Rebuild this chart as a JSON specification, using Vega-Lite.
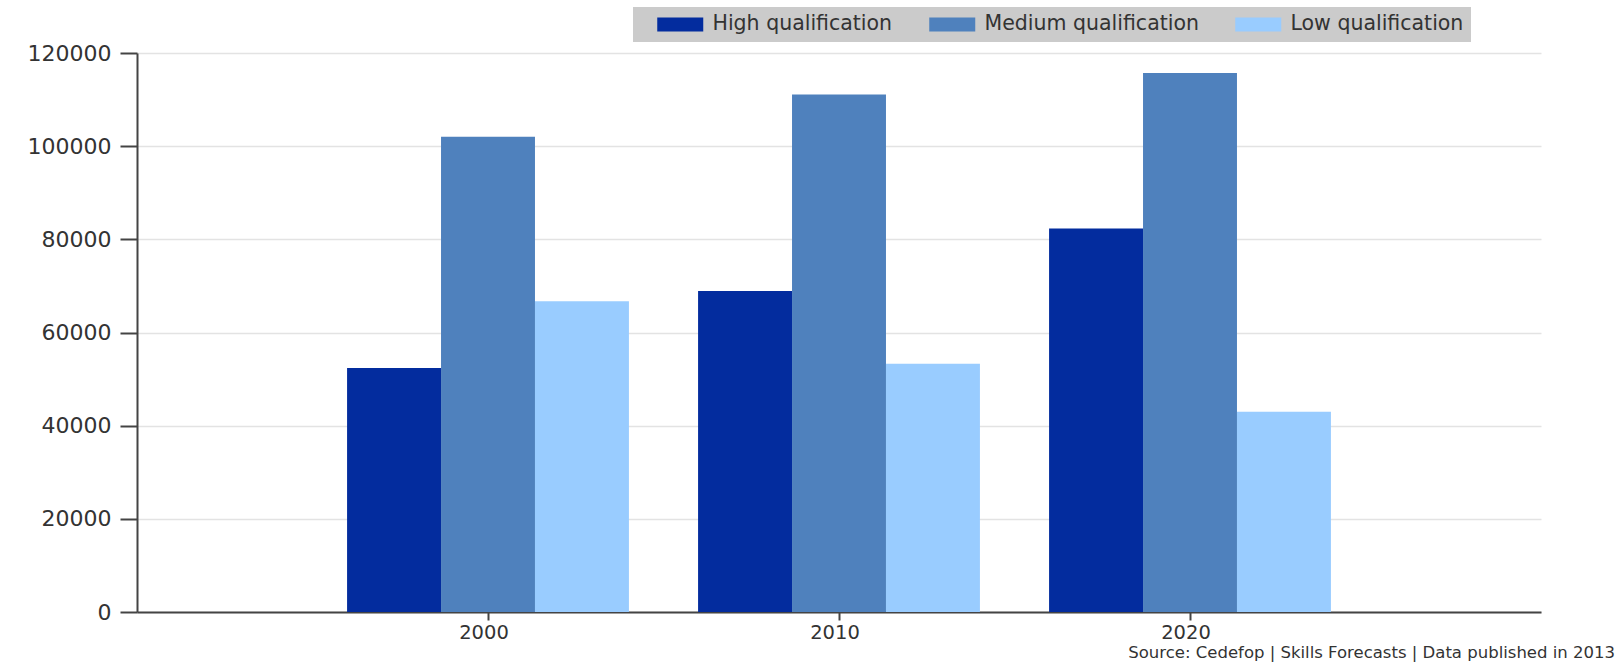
{
  "$schema": "https://vega.github.io/schema/vega-lite/v6.json",
  "width": 1404,
  "height": 559,
  "autosize": {"type": "none"},
  "padding": {"left": 137, "top": 53, "right": 79, "bottom": 52},
  "background": "white",
  "config": {"view": {"stroke": null}, "font": "DejaVu Sans"},
  "title": {
    "text": "Source: Cedefop | Skills Forecasts | Data published in 2013",
    "orient": "bottom",
    "anchor": "end",
    "dx": 74,
    "offset": 3,
    "fontSize": 16.5,
    "fontWeight": "normal",
    "color": "#333333",
    "font": "DejaVu Sans"
  },
  "data": {
    "values": [
      {"year": "2000", "qualification": "High qualification", "value": 52400},
      {"year": "2000", "qualification": "Medium qualification", "value": 102000},
      {"year": "2000", "qualification": "Low qualification", "value": 66700},
      {"year": "2010", "qualification": "High qualification", "value": 68900},
      {"year": "2010", "qualification": "Medium qualification", "value": 111100},
      {"year": "2010", "qualification": "Low qualification", "value": 53300},
      {"year": "2020", "qualification": "High qualification", "value": 82300},
      {"year": "2020", "qualification": "Medium qualification", "value": 115700},
      {"year": "2020", "qualification": "Low qualification", "value": 43000}
    ]
  },
  "mark": {"type": "bar"},
  "encoding": {
    "x": {
      "field": "year",
      "type": "nominal",
      "scale": {"domain": ["2000", "2010", "2020"], "paddingInner": 0.197, "paddingOuter": 0.5985},
      "axis": {
        "title": null,
        "labelAngle": 0,
        "grid": false,
        "tickSize": 8,
        "tickWidth": 2,
        "tickColor": "#444444",
        "domainColor": "#444444",
        "domainWidth": 2,
        "labelFontSize": 19.5,
        "labelColor": "#333333",
        "labelPadding": 3,
        "labelOffset": -4
      }
    },
    "xOffset": {
      "field": "qualification",
      "type": "nominal",
      "scale": {"domain": ["High qualification", "Medium qualification", "Low qualification"], "paddingInner": 0, "paddingOuter": 0}
    },
    "y": {
      "field": "value",
      "type": "quantitative",
      "scale": {"domain": [0, 120000], "nice": false},
      "axis": {
        "title": null,
        "values": [0, 20000, 40000, 60000, 80000, 100000, 120000],
        "format": "d",
        "tickSize": 17,
        "tickWidth": 2,
        "tickColor": "#444444",
        "domainColor": "#444444",
        "domainWidth": 2,
        "gridColor": "#e3e3e3",
        "gridWidth": 1.5,
        "labelFontSize": 22,
        "labelColor": "#333333",
        "labelPadding": 9
      }
    },
    "color": {
      "field": "qualification",
      "type": "nominal",
      "scale": {
        "domain": ["High qualification", "Medium qualification", "Low qualification"],
        "range": ["#032c9e", "#4f81bd", "#99ccff"]
      },
      "legend": {
        "title": null,
        "orient": "none",
        "legendX": 496,
        "legendY": -46,
        "direction": "horizontal",
        "fillColor": "#cbcbcb",
        "padding": 7,
        "symbolType": "M-3.286,-1L3.286,-1L3.286,1L-3.286,1Z",
        "symbolSize": 196,
        "symbolStrokeWidth": 0,
        "symbolOpacity": 1,
        "symbolOffset": 30,
        "labelFontSize": 20.5,
        "labelLimit": 0,
        "labelColor": "#333333",
        "labelOffset": 22,
        "columnPadding": 19
      }
    }
  }
}
